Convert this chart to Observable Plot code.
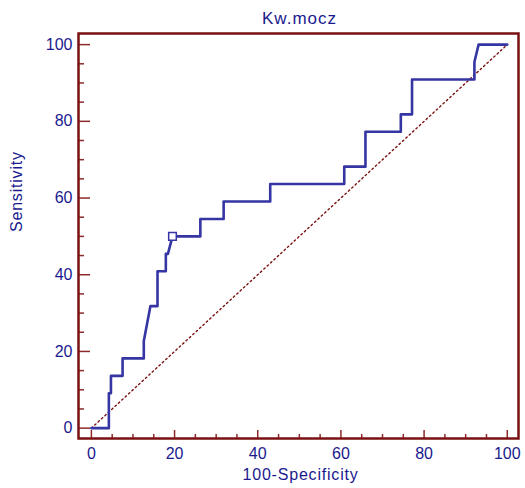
<!DOCTYPE html>
<html>
<head>
<meta charset="utf-8">
<script src="https://cdn.jsdelivr.net/npm/d3@7"></script>
<script src="https://cdn.jsdelivr.net/npm/@observablehq/plot@0.6"></script>
<style>
  html, body { margin: 0; padding: 0; background: #fff; }
  svg { font-family: "Liberation Sans", Arial, sans-serif; }
</style>
</head>
<body>
<div id="chart"></div>
<script>
// ROC curve: 100-Specificity (x) vs Sensitivity (y)
const fpr = [0, 4.2, 4.2, 4.7, 4.7, 7.5, 7.5, 12.6, 12.6, 14.2, 15.9, 15.9, 17.9, 17.9, 18.4, 19.5, 26.2, 26.2, 31.8, 31.8, 43.0, 43.0, 60.8, 60.8, 65.9, 65.9, 74.4, 74.4, 77.1, 77.1, 92.1, 92.1, 93.1, 100];
const tpr = [0, 0, 9.09, 9.09, 13.64, 13.64, 18.18, 18.18, 22.73, 31.82, 31.82, 40.91, 40.91, 45.45, 45.45, 50, 50, 54.55, 54.55, 59.09, 59.09, 63.64, 63.64, 68.18, 68.18, 77.27, 77.27, 81.82, 81.82, 90.91, 90.91, 95.45, 100, 100];
const cutoffX = [19.5];
const cutoffY = [50];
const refX = [0, 100];
const refY = [0, 100];
const majorTicks = [0, 20, 40, 60, 80, 100];
const minorTicks = [5, 10, 15, 25, 30, 35, 45, 50, 55, 65, 70, 75, 85, 90, 95];
const title = "Kw.mocz";
const xLabel = "100-Specificity";
const yLabel = "Sensitivity";

const W = 525, H = 488;
const mL = 78, mR = 7, mT = 33, mB = 50;
const frameW = W - mL - mR, frameH = H - mT - mB;

const navy = "#1a1a8e";
const maroon = "#7a1212";
const tickCol = "#8e2a2a";
const curveCol = "#3535a3";

const curve = fpr.map((x, i) => ({x, y: tpr[i]}));
const ref = refX.map((x, i) => ({x, y: refY[i]}));
const cut = cutoffX.map((x, i) => ({x, y: cutoffY[i]}));

const chart = Plot.plot({
  width: W,
  height: H,
  marginLeft: mL,
  marginRight: mR,
  marginTop: mT,
  marginBottom: mB,
  style: {fontFamily: "Liberation Sans, Arial, sans-serif", background: "#fff"},
  x: {domain: [-3.1, 102.7]},
  y: {domain: [-2.7, 102.9]},
  marks: [
    // ticks inside frame
    Plot.tickX(minorTicks, {x: d => d, stroke: tickCol, strokeWidth: 1.5, insetTop: frameH - 4}),
    Plot.tickX(majorTicks, {x: d => d, stroke: tickCol, strokeWidth: 1.5, insetTop: frameH - 8}),
    Plot.tickY(minorTicks, {y: d => d, stroke: tickCol, strokeWidth: 1.5, insetRight: frameW - 6}),
    Plot.tickY(majorTicks, {y: d => d, stroke: tickCol, strokeWidth: 1.5, insetRight: frameW - 12}),
    Plot.axisX({ticks: majorTicks, tickSize: 0, tickPadding: 9, label: null, fontSize: 16, fill: navy, style: {letterSpacing: "0.8px"}}),
    Plot.axisY({ticks: majorTicks, tickSize: 0, tickPadding: 6, label: null, fontSize: 16, fill: navy, style: {letterSpacing: "0.8px"}}),
    // reference diagonal
    Plot.line(ref, {x: "x", y: "y", stroke: maroon, strokeWidth: 1.4, strokeDasharray: "1.6,3"}),
    // ROC curve
    Plot.line(curve, {x: "x", y: "y", stroke: curveCol, strokeWidth: 2.6, curve: "linear"}),
    Plot.dot(cut, {x: "x", y: "y", symbol: "square", r: 4.3, fill: "white", stroke: curveCol, strokeWidth: 1.5}),
    Plot.frame({stroke: maroon, strokeWidth: 2.5}),
    // titles
    Plot.text([title], {frameAnchor: "top", lineAnchor: "bottom", dy: -10, dx: 1, fontSize: 17, fill: navy}),
    Plot.text([xLabel], {frameAnchor: "bottom", lineAnchor: "bottom", dy: 41, dx: 2, fontSize: 16, fill: navy}),
    Plot.text([yLabel], {frameAnchor: "left", rotate: -90, dx: -62, dy: -4, fontSize: 16, fill: navy})
  ]
});
chart.querySelectorAll("text").forEach(t => {
  if (t.textContent === xLabel || t.textContent === yLabel) t.setAttribute("letter-spacing", "0.8");
  if (t.textContent === title) t.setAttribute("letter-spacing", "1");
});
document.getElementById("chart").appendChild(chart);
</script>
</body>
</html>
